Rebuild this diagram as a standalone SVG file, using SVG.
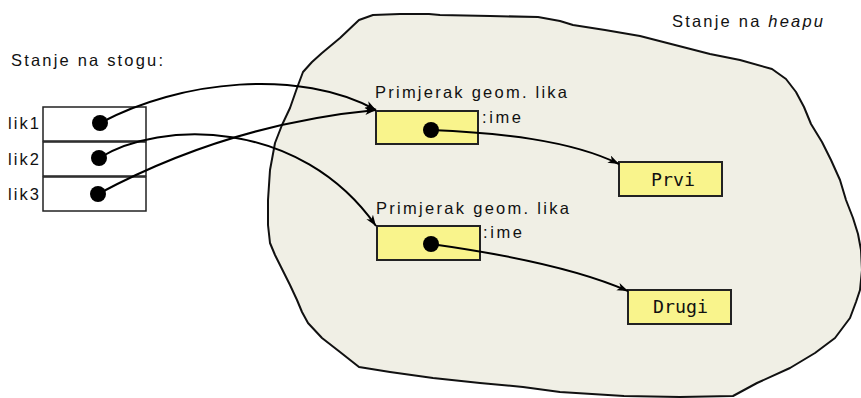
<svg xmlns="http://www.w3.org/2000/svg" width="861" height="398" viewBox="0 0 861 398">
<defs>
<marker id="ah" markerUnits="userSpaceOnUse" markerWidth="12" markerHeight="10" refX="11" refY="4" orient="auto">
<path d="M0,0 L11,4 L0,8 L3,4 z" fill="#000"/>
</marker>
<style>
.t{font-family:"Liberation Sans",Arial,sans-serif;font-size:16.5px;fill:#111}
.m{font-family:"DejaVu Sans Mono","Liberation Mono",monospace;font-size:17px;fill:#111}
.cell{fill:#fff;stroke:#222;stroke-width:1.5}
.obj{fill:#f9f48c;stroke:#222;stroke-width:2}
.dot{fill:#000}
.c{fill:none;stroke:#000;stroke-width:2}
</style>
</defs>
<rect width="861" height="398" fill="#fff"/>
<g id="heap">
<path d="M373,15 L400,14 L429,14 L440,15 L490,16 L538,17 L560,21 L573,25 L605,30 L640,36 L675,45 L710,54 L740,60 L772,69 L786,79 L796,92 L804,107 L811,124 L822,142 L831,160 L840,180 L846,200 L853,218 L858,234 L861,250 L862,270 L860,290 L856,302 L850,318 L835,338 L815,353 L790,368 L757,383 L733,396 L680,397 L624,396 L560,392 L523,387 L480,383 L433,378 L390,372 L359,367 L340,352 L322,338 L308,323 L302,312 L297,300 L290,285 L281,267 L275,255 L270,243 L268,225 L268,200 L270,170 L275,143 L282,125 L290,108 L297,88 L303,72 L312,62 L322,53 L340,38 L359,20 Z" fill="#f0efe5" stroke="#111" stroke-width="2" stroke-linejoin="round"/>
<text class="t" x="672" y="27" textLength="151" lengthAdjust="spacing">Stanje na <tspan font-style="italic">heapu</tspan></text>
</g>
<g id="stack">
<text class="t" x="11" y="66" textLength="152" lengthAdjust="spacing">Stanje na stogu:</text>
</g>
<g id="lik1">
<rect class="cell" x="43" y="107" width="103" height="34"/>
<circle class="dot" cx="100" cy="123" r="8"/>
<text class="t" x="8" y="129" textLength="31" lengthAdjust="spacing">lik1</text>
</g>
<g id="lik2">
<rect class="cell" x="43" y="142" width="103" height="34"/>
<circle class="dot" cx="99" cy="158" r="8"/>
<text class="t" x="8" y="165" textLength="31" lengthAdjust="spacing">lik2</text>
</g>
<g id="lik3">
<rect class="cell" x="43" y="177" width="103" height="34"/>
<circle class="dot" cx="98" cy="194" r="8"/>
<text class="t" x="8" y="200" textLength="31" lengthAdjust="spacing">lik3</text>
</g>
<g id="obj1">
<text class="t" x="375" y="98" textLength="192" lengthAdjust="spacing">Primjerak geom. lika</text>
<rect class="obj" x="376" y="111" width="102" height="33"/>
<circle class="dot" cx="431" cy="130" r="8"/>
<text class="t" x="482" y="123" textLength="39" lengthAdjust="spacing">:ime</text>
</g>
<g id="obj2">
<text class="t" x="376" y="214" textLength="193" lengthAdjust="spacing">Primjerak geom. lika</text>
<rect class="obj" x="377" y="226" width="103" height="34"/>
<circle class="dot" cx="431" cy="244" r="8"/>
<text class="t" x="483" y="238" textLength="39" lengthAdjust="spacing">:ime</text>
</g>
<g id="prvi">
<rect class="obj" x="619" y="162" width="103" height="34"/>
<text class="m" x="651" y="186" textLength="44" lengthAdjust="spacingAndGlyphs">Prvi</text>
</g>
<g id="drugi">
<rect class="obj" x="628" y="290" width="103" height="34"/>
<text class="m" x="653" y="313" textLength="55" lengthAdjust="spacingAndGlyphs">Drugi</text>
</g>
<g id="connectors">
<path class="c" d="M100,123 C180,80 300,68 376,110" marker-end="url(#ah)"/>
<path class="c" d="M99,158 C160,120 300,118 376,226" marker-end="url(#ah)"/>
<path class="c" d="M98,194 C180,150 270,120 376,110" marker-end="url(#ah)"/>
<path class="c" d="M431,130 C500,133 570,140 619,164" marker-end="url(#ah)"/>
<path class="c" d="M431,244 C510,255 580,270 628,291" marker-end="url(#ah)"/>
</g>
</svg>
